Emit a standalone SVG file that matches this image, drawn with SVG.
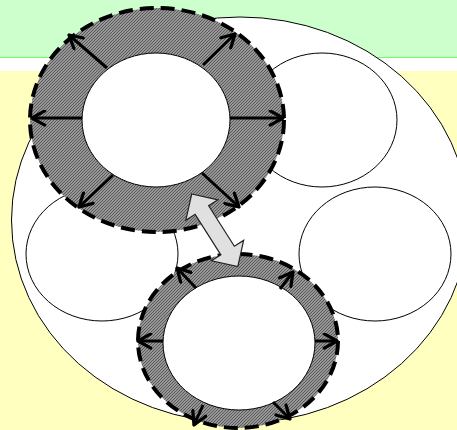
<svg xmlns="http://www.w3.org/2000/svg" width="457" height="430" viewBox="0 0 457 430">
  <defs>
    <pattern id="hatch" width="3" height="3" patternUnits="userSpaceOnUse">
      <rect width="3" height="3" fill="#969696"/>
      <path d="M-1,1 L1,-1 M0,3 L3,0 M2,4 L4,2" stroke="#5a5a5a" stroke-width="1"/>
    </pattern>
    <marker id="vhead" viewBox="0 0 12 12" refX="10.5" refY="6" markerWidth="17" markerHeight="17" markerUnits="userSpaceOnUse" orient="auto">
      <path d="M1.5,1 L10.5,6 L1.5,11" fill="none" stroke="#000" stroke-width="2.3" stroke-linecap="round" stroke-linejoin="round"/>
    </marker>
    <style>
      .thin { fill: #fff; stroke: #000; stroke-width: 1; }
      .ring { fill: url(#hatch); stroke: #000; stroke-width: 4; stroke-dasharray: 14 7; }
      .radial { stroke: #000; stroke-width: 3; fill: none; marker-end: url(#vhead); }
      .dbl { fill: #e0e0e0; stroke: #222; stroke-width: 1.2; }
    </style>
  </defs>

  <g id="background">
    <rect x="0" y="0" width="457" height="58" fill="#ccffcc"/>
    <line x1="0" y1="57.5" x2="457" y2="57.5" stroke="#66ff66" stroke-width="1"/>
    <rect x="0" y="58" width="457" height="13" fill="#ffffff"/>
    <rect x="0" y="71" width="457" height="359" fill="#ffffc0"/>
  </g>

  <g id="outer-ellipse">
    <ellipse class="thin" cx="240" cy="220" rx="228.5" ry="203"/>
  </g>

  <g id="cell-top-right">
    <ellipse class="thin" cx="322" cy="120" rx="75" ry="67"/>
  </g>
  <g id="cell-right">
    <ellipse class="thin" cx="375" cy="254" rx="76" ry="67"/>
  </g>
  <g id="cell-left">
    <ellipse class="thin" cx="102" cy="254" rx="76" ry="67"/>
  </g>

  <g id="ring-top">
    <ellipse class="ring" cx="157" cy="120" rx="127" ry="112"/>
    <ellipse class="thin" cx="156" cy="120" rx="74" ry="67"/>
  </g>

  <g id="ring-bottom">
    <ellipse class="ring" cx="238" cy="341" rx="100" ry="87"/>
    <ellipse class="thin" cx="239" cy="343" rx="76" ry="67"/>
  </g>

  <g id="connectors">
    <line class="radial" x1="82" y1="118" x2="32" y2="118"/>
    <line class="radial" x1="230" y1="118" x2="283" y2="118"/>
    <line class="radial" x1="107" y1="68" x2="69" y2="35"/>
    <line class="radial" x1="203" y1="65" x2="235" y2="34"/>
    <line class="radial" x1="113" y1="175" x2="79" y2="207"/>
    <line class="radial" x1="202" y1="173" x2="239" y2="207"/>

    <line class="radial" x1="163" y1="341" x2="138" y2="341"/>
    <line class="radial" x1="315" y1="341" x2="337" y2="341"/>
    <line class="radial" x1="196" y1="288" x2="177" y2="268"/>
    <line class="radial" x1="280" y1="289" x2="293" y2="272"/>
    <line class="radial" x1="203" y1="405" x2="194" y2="425"/>
    <line class="radial" x1="273" y1="402" x2="290" y2="419"/>

    <polygon class="dbl" transform="translate(191.7,194) rotate(57.6)" points="0,0 19,-19 19,-8 67,-8 67,-19 86,0 67,19 67,8 19,8 19,19"/>
  </g>
</svg>
